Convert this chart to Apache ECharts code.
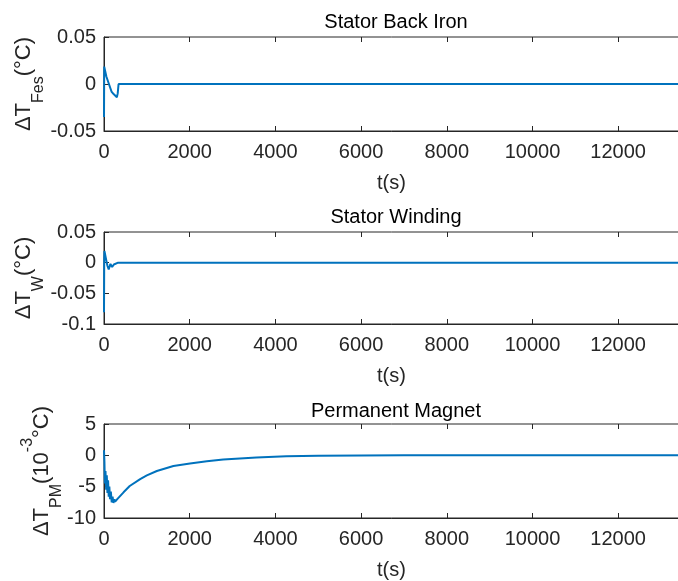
<!DOCTYPE html>
<html>
<head>
<meta charset="utf-8">
<script src="https://cdn.jsdelivr.net/npm/echarts@6/dist/echarts.min.js"></script>
<style>
html, body { margin: 0; padding: 0; background: #fff; }
#chart { width: 678px; height: 581px; }
</style>
</head>
<body>
<div id="chart"></div>
<script>
// time ticks (s)
const tTicks = [0, 2000, 4000, 6000, 8000, 10000, 12000];
const tMax = 13420;

// Stator back iron
const fesT = [0, 5, 40, 55, 100, 115, 160, 175, 230, 270, 300, 320, 340, 400, 13420];
const fesV = [-0.035, 0.0185, 0.018, 0.008, 0.006, 0.0, -0.002, -0.008, -0.011, -0.013, -0.014, -0.01, 0, 0, 0];

// Stator winding
const wT = [0, 5, 10, 30, 50, 80, 110, 150, 190, 230, 270, 330, 13420];
const wV = [-0.081, 0.005, 0.019, 0.017, 0.005, -0.005, -0.011, -0.002, -0.007, -0.003, -0.001, 0, 0];

// Permanent magnet (10^-3 °C)
const pmT = [0, 10, 20, 35, 50, 65, 80, 95, 110, 125, 140, 160, 180, 200, 220, 240, 260, 290, 320,
  456, 600, 844, 1000, 1233, 1620, 2007, 2400, 2783, 3558, 4256, 5000, 6000, 7000, 13420];
const pmV = [0.8, -1.0, -4.5, -2.5, -5.5, -3.2, -6.0, -4.0, -6.6, -5.0, -7.0, -5.8, -7.5, -6.6, -7.6, -7.0, -7.4, -7.2, -6.9,
  -5.9, -4.9, -3.8, -3.2, -2.5, -1.7, -1.3, -0.95, -0.65, -0.34, -0.15, -0.07, -0.02, 0, 0];

function pairs(t, v) {
    return t.map(function (x, i) { return [x, v[i]]; });
}

var font = "'Liberation Sans', Arial, sans-serif";
var axisColor = '#262626';
var rich = {
    a: { fontSize: 22, lineHeight: 22, padding: [11, 0, 0, 0], verticalAlign: 'top', color: axisColor, fontFamily: font },
    s: { fontSize: 16, lineHeight: 16, padding: [29, 0, 0, 0], verticalAlign: 'top', color: axisColor, fontFamily: font },
    p: { fontSize: 16, lineHeight: 16, verticalAlign: 'top', color: axisColor, fontFamily: font }
};

function gridAt(top, height) {
    return { left: 104, right: -1, top: top, height: height, outerBoundsMode: 'none',
        show: true, borderColor: axisColor, borderWidth: 1, backgroundColor: 'transparent' };
}
var grids = [gridAt(37, 94), gridAt(232, 92), gridAt(424, 94)];

function bottomAxis(g) {
    return {
        type: 'value', gridIndex: g, min: 0, max: tMax, position: 'bottom',
        name: 't(s)', nameLocation: 'middle', nameGap: 42, nameMoveOverlap: false,
        nameTextStyle: { fontSize: 20, color: axisColor, fontFamily: font },
        axisLine: { show: true, onZero: false, lineStyle: { color: axisColor, width: 1 } },
        axisTick: { show: true, inside: true, length: 5, customValues: tTicks, lineStyle: { color: axisColor } },
        axisLabel: { customValues: tTicks, fontSize: 20, color: axisColor, fontFamily: font, margin: 11,
            formatter: function (v) { return String(v); } },
        splitLine: { show: false }
    };
}
function topAxis(g) {
    return {
        type: 'value', gridIndex: g, min: 0, max: tMax, position: 'top',
        axisLine: { show: false, onZero: false },
        axisTick: { show: true, inside: true, length: 5, customValues: tTicks, lineStyle: { color: axisColor } },
        axisLabel: { show: false },
        splitLine: { show: false }
    };
}
function leftAxis(g, min, max, interval, name, gap) {
    return {
        type: 'value', gridIndex: g, min: min, max: max, interval: interval,
        name: name, nameLocation: 'middle', nameRotate: 90, nameGap: gap, nameMoveOverlap: false,
        nameTextStyle: { rich: rich },
        axisLine: { show: true, onZero: false, lineStyle: { color: axisColor, width: 1 } },
        axisTick: { show: true, inside: true, length: 5, lineStyle: { color: axisColor } },
        axisLabel: { fontSize: 20, color: axisColor, fontFamily: font, margin: 8 },
        splitLine: { show: false }
    };
}
function titleAt(text, top) {
    return { text: text, left: 391, top: top, textAlign: 'center',
        textStyle: { fontSize: 20, fontWeight: 'normal', color: '#000', fontFamily: font } };
}
function lineSeries(g, data) {
    return {
        type: 'line', xAxisIndex: g * 2, yAxisIndex: g, data: data,
        showSymbol: false, symbol: 'none', animation: false,
        lineStyle: { color: '#0072BD', width: 2 }
    };
}

var chart = echarts.init(document.getElementById('chart'));
chart.setOption({
    animation: false,
    title: [
        titleAt('Stator Back Iron', 7),
        titleAt('Stator Winding', 202),
        titleAt('Permanent Magnet', 396)
    ],
    grid: grids,
    xAxis: [bottomAxis(0), topAxis(0), bottomAxis(1), topAxis(1), bottomAxis(2), topAxis(2)],
    yAxis: [
        leftAxis(0, -0.05, 0.05, 0.05, '{a|ΔT}{s|Fes}{a|(°C)}', 80),
        leftAxis(1, -0.1, 0.05, 0.05, '{a|ΔT}{s|W}{a|(°C)}', 80),
        leftAxis(2, -10, 5, 5, '{a|ΔT}{s|PM}{a|(10}{p|-3}{a|°C)}', 62)
    ],
    series: [
        lineSeries(0, pairs(fesT, fesV)),
        lineSeries(1, pairs(wT, wV)),
        lineSeries(2, pairs(pmT, pmV))
    ]
});
</script>
</body>
</html>
